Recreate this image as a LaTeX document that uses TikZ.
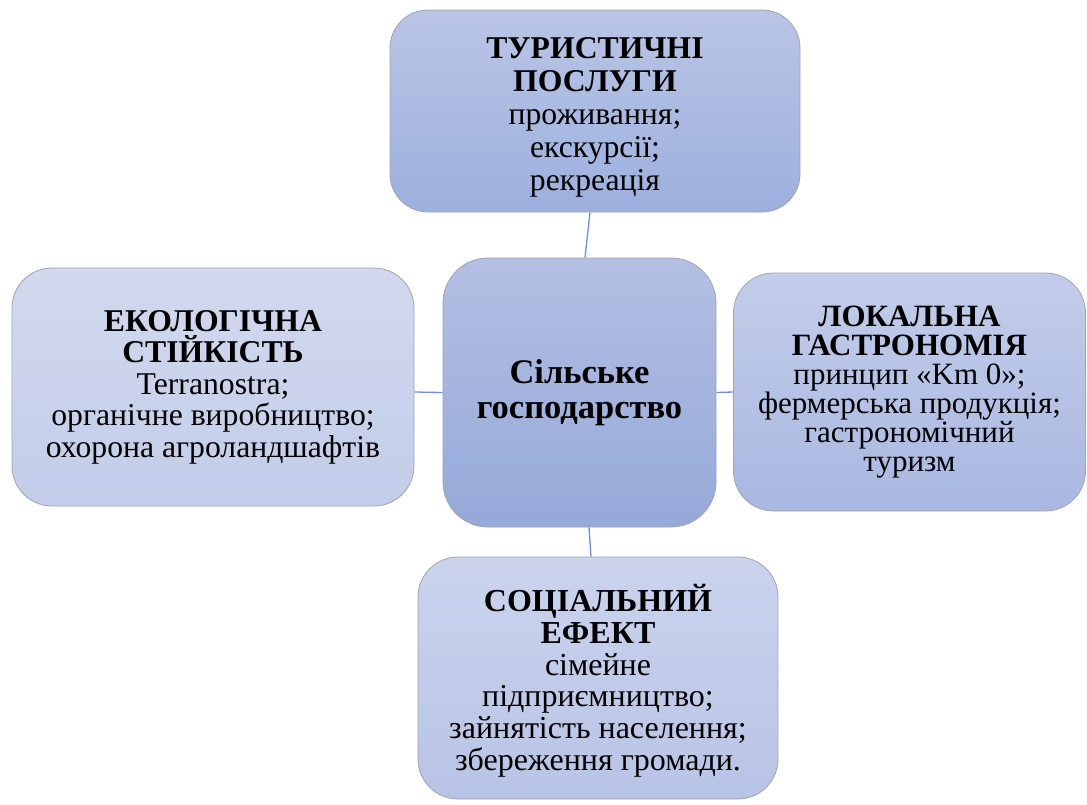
\documentclass[tikz,border=0pt]{standalone}
\usepackage{fontspec}
\setmainfont{Liberation Serif}
\usetikzlibrary{calc}
\definecolor{linkblue}{HTML}{6F8FD0}
\definecolor{edgegray}{HTML}{A0A4AE}
\tikzset{
  box/.style={rectangle, draw=edgegray, line width=0.8pt, align=center, inner sep=0pt, text=black},
  link/.style={draw=linkblue, line width=1.3pt},
}
\begin{document}
\begin{tikzpicture}[x=1pt,y=-1pt]
\useasboundingbox (0,0) rectangle (1087,804);
\node[box, rounded corners=38pt, minimum width=410pt, minimum height=202pt,
  top color={rgb,255:red,186;green,197;blue,229}, bottom color={rgb,255:red,156;green,176;blue,222},
  font=\fontsize{31.7}{33}\selectfont] (top) at (595,111)
  {\rule{0pt}{34pt}\textbf{ТУРИСТИЧНІ}\\\textbf{ПОСЛУГИ}\\проживання;\\екскурсії;\\рекреація};
\node[box, rounded corners=45pt, minimum width=273pt, minimum height=269pt,
  top color={rgb,255:red,180;green,191;blue,227}, bottom color={rgb,255:red,149;green,169;blue,217},
  font=\fontsize{34.5}{35}\selectfont\bfseries] (cen) at (579.5,392.5)
  {Сільське\\господарство};
\node[box, rounded corners=40pt, minimum width=402pt, minimum height=238pt,
  top color={rgb,255:red,210;green,217;blue,238}, bottom color={rgb,255:red,195;green,205;blue,233},
  font=\fontsize{31.7}{31.5}\selectfont] (left) at (213,387)
  {\textbf{ЕКОЛОГІЧНА}\\\textbf{СТІЙКІСТЬ}\\Terranostra;\\органічне виробництво;\\охорона агроландшафтів};
\node[box, rounded corners=40pt, minimum width=352pt, minimum height=238pt,
  top color={rgb,255:red,195;green,205;blue,234}, bottom color={rgb,255:red,169;green,184;blue,225},
  font=\fontsize{31}{29}\selectfont] (right) at (909.5,392)
  {\textbf{ЛОКАЛЬНА}\\\textbf{ГАСТРОНОМІЯ}\\принцип «Km 0»;\\фермерська продукція;\\гастрономічний\\туризм};
\node[box, rounded corners=40pt, minimum width=360pt, minimum height=242pt,
  top color={rgb,255:red,203;green,211;blue,237}, bottom color={rgb,255:red,184;green,196;blue,230},
  font=\fontsize{32}{31.7}\selectfont] (bot) at (598,678)
  {\rule{0pt}{33pt}\textbf{СОЦІАЛЬНИЙ}\\\textbf{ЕФЕКТ}\\сімейне\\підприємництво;\\зайнятість населення;\\збереження громади.};
\draw[link] ([xshift=-5pt]top.south) -- ([xshift=5.5pt]cen.north);
\draw[link] ([yshift=-5pt]left.east) -- (cen.west);
\draw[link] (cen.east) -- (right.west);
\draw[link] ([xshift=9.5pt]cen.south) -- ([xshift=-7pt]bot.north);
\end{tikzpicture}
\end{document}
